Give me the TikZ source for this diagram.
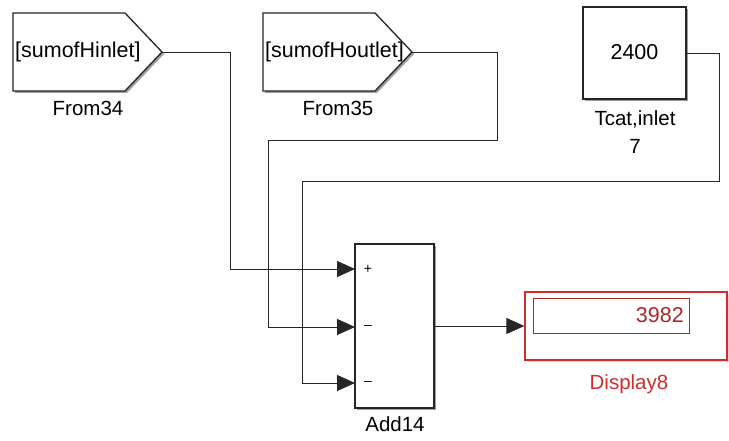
\documentclass[tikz,border=0pt]{standalone}
\usepackage{fontspec}
\setmainfont{Liberation Sans}
\usetikzlibrary{arrows.meta,shadows}
\definecolor{dispred}{RGB}{210,45,45}
\definecolor{dispinner}{RGB}{170,40,40}
\tikzset{
  blk/.style={draw=black!85, line width=1.3pt, fill=white, drop shadow={shadow xshift=2pt, shadow yshift=-2pt, fill=black!55, opacity=0.7}},
  conn/.style={draw=black!85, line width=0.9pt},
  arr/.style={conn, -{Triangle[length=18pt,width=16pt]}},
  lbl/.style={font=\fontsize{20.5}{23}\selectfont, inner sep=0pt},
  txt/.style={font=\fontsize{21.5}{24}\selectfont, inner sep=0pt},
  port/.style={font=\fontsize{14}{16}\selectfont, inner sep=0pt},
}
\begin{document}
\begin{tikzpicture}[x=1pt,y=-1pt]
\useasboundingbox (0,0) rectangle (729,441);
% From34
\draw[blk] (13,13) -- (125,13) -- (162,52) -- (125,91) -- (13,91) -- cycle;
\coordinate (f34out) at (162,52);
\node[txt, anchor=west] (f34txt) at (15,52) {[sumofHinlet]};
\node[lbl] (f34lbl) at (88,108) {From34};
% From35
\draw[blk] (263,13) -- (375,13) -- (412,52) -- (375,91) -- (263,91) -- cycle;
\coordinate (f35out) at (412,52);
\node[txt, anchor=west] (f35txt) at (265,52) {[sumofHoutlet]};
\node[lbl] (f35lbl) at (338,108) {From35};
% Tcat constant
\node[blk, minimum width=103pt, minimum height=92pt, inner sep=0pt] (tcat) at (634.5,53) {};
\node[txt] (tcattxt) at (634.5,52) {2400};
\node[lbl] (tcatlbl) at (635,119) {Tcat,inlet};
\node[lbl] (tcat7) at (635,146) {7};
% Add block
\node[blk, minimum width=79pt, minimum height=164pt, inner sep=0pt] (add) at (394.5,326) {};
\coordinate (in1) at (355,269);
\coordinate (in2) at (355,327);
\coordinate (in3) at (355,383);
\node[port] (p1) at (368,269) {+};
\node[port] (p2) at (368,327) {\textendash};
\node[port] (p3) at (368,383) {\textendash};
\node[lbl] (addlbl) at (395,424) {Add14};
% Display
\node[draw=dispred, line width=1.3pt, fill=white, minimum width=202pt, minimum height=68pt, inner sep=0pt,
  drop shadow={shadow xshift=1.5pt, shadow yshift=-1.5pt, fill=dispred!40, opacity=0.6}] (disp) at (626,326) {};
\node[draw=dispinner, line width=0.9pt, minimum width=156pt, minimum height=35pt, inner sep=0pt] (dispin) at (611,315.5) {};
\node[txt, anchor=east, text=dispinner] (dispval) at (684,315) {3982};
\node[lbl, text=dispred] (displbl) at (629,384) {Display8};
% connectors
\draw[arr] (f34out) -- (230,52) |- (in1);
\draw[arr] (f35out) -- (497,52) -- (497,140) -- (268,140) |- (in2);
\draw[arr] (tcat.east) -- (719,53) -- (719,181) -- (302,181) |- (in3);
\draw[arr] (add.east) -- (disp.west);
\end{tikzpicture}
\end{document}
